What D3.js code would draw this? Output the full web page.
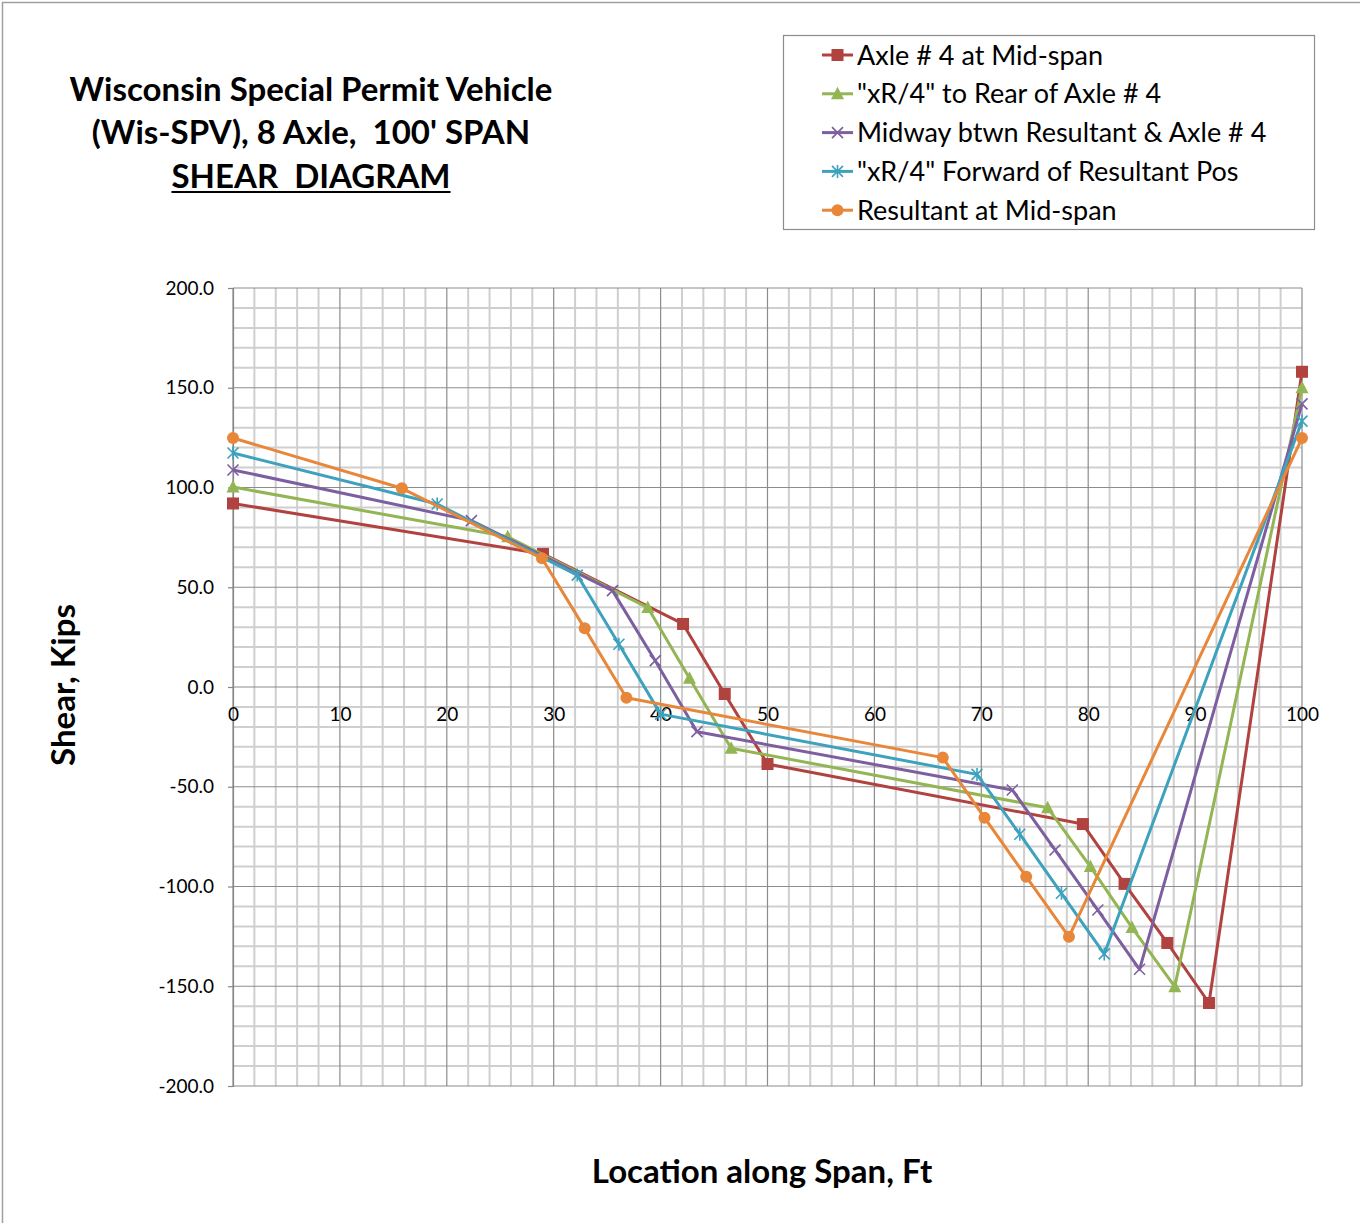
<!DOCTYPE html>
<html>
<head>
<meta charset="utf-8">
<script src="https://cdnjs.cloudflare.com/ajax/libs/d3/7.8.5/d3.min.js"></script>
<style>
  body { margin: 0; background: #fff; }
  text { font-family: Lato, 'Open Sans', sans-serif; fill: #000; }
</style>
</head>
<body>
<div id="chart"></div>
<script>
// Location along span (ft) and shear (kips) for each load position
let seriesNames = [
  'Axle # 4 at Mid-span',
  '"xR/4" to Rear of Axle # 4',
  'Midway btwn Resultant & Axle # 4',
  '"xR/4" Forward of Resultant Pos',
  'Resultant at Mid-span'
];

let axle4X = [0, 29.0, 42.1, 46.0, 50.0, 79.5, 83.4, 87.4, 91.3, 100];
let axle4Y = [92.0, 66.7, 31.6, -3.5, -38.6, -68.7, -98.7, -128.3, -158.4, 158.0];

let rearX = [0, 25.7, 38.8, 42.7, 46.6, 76.2, 80.2, 84.1, 88.1, 100];
let rearY = [100.2, 75.3, 39.8, 4.4, -30.7, -60.5, -90.0, -120.6, -150.2, 150.0];

let midwayX = [0, 22.3, 35.5, 39.5, 43.4, 72.9, 76.9, 80.9, 84.8, 100];
let midwayY = [108.8, 83.4, 48.3, 13.2, -22.4, -51.6, -81.7, -111.8, -141.5, 141.9];

let forwardX = [0, 19.1, 32.2, 36.1, 40.0, 69.6, 73.6, 77.5, 81.5, 100];
let forwardY = [117.3, 91.7, 56.1, 21.4, -13.6, -43.8, -73.8, -103.4, -133.8, 133.3];

let resultantX = [0, 15.8, 28.9, 32.9, 36.8, 66.4, 70.3, 74.2, 78.2, 100];
let resultantY = [124.8, 99.6, 64.5, 29.4, -5.4, -35.4, -65.5, -95.1, -125.2, 124.8];

let xTicks = d3.range(0, 101, 10);
let yTicks = d3.range(-200, 201, 50);

let colors = ['#B0423F', '#93B554', '#7D5FA0', '#3DA2BD', '#E8873A'];
let markers = ['square', 'triangle', 'x', 'star', 'circle'];

let series = [
  [axle4X, axle4Y], [rearX, rearY], [midwayX, midwayY],
  [forwardX, forwardY], [resultantX, resultantY]
].map(function(s, i) {
  return {
    name: seriesNames[i],
    color: colors[i],
    marker: markers[i],
    points: s[0].map(function(x, j) { return {x: x, y: s[1][j]}; })
  };
});

let width = 1360;
let height = 1223;
let plotLeft = 233, plotRight = 1302, plotTop = 288, plotBottom = 1086;

let svg = d3.select('#chart')
.append('svg')
.attr('width', width)
.attr('height', height);

// outer chart border (only top and left show in the frame)
svg.append('rect')
.attr('x', 2.5)
.attr('y', 2.5)
.attr('width', width + 10)
.attr('height', height + 10)
.attr('fill', 'none')
.attr('stroke', '#a0a0a0')
.attr('stroke-width', 1.5);

let x = d3.scaleLinear().domain([0, 100]).range([plotLeft, plotRight]);
let y = d3.scaleLinear().domain([-200, 200]).range([plotBottom, plotTop]);

// gridlines: minor first, major on top
let grid = svg.append('g');
let xMinor = d3.range(0, 101, 2).filter(function(d) { return d % 10 !== 0; });
let yMinor = d3.range(-200, 201, 10).filter(function(d) { return d % 50 !== 0; });

grid.selectAll('.vminor')
.data(xMinor)
.enter().append('line')
.attr('x1', function(d) { return x(d); })
.attr('x2', function(d) { return x(d); })
.attr('y1', plotTop)
.attr('y2', plotBottom)
.attr('stroke', '#cfcfcf')
.attr('stroke-width', 2);

grid.selectAll('.hminor')
.data(yMinor)
.enter().append('line')
.attr('x1', plotLeft)
.attr('x2', plotRight)
.attr('y1', function(d) { return y(d); })
.attr('y2', function(d) { return y(d); })
.attr('stroke', '#cfcfcf')
.attr('stroke-width', 2);

grid.selectAll('.vmajor')
.data(xTicks)
.enter().append('line')
.attr('x1', function(d) { return x(d); })
.attr('x2', function(d) { return x(d); })
.attr('y1', plotTop)
.attr('y2', plotBottom)
.attr('stroke', '#8c8c8c')
.attr('stroke-width', 1.2);

grid.selectAll('.hmajor')
.data(yTicks)
.enter().append('line')
.attr('x1', plotLeft)
.attr('x2', plotRight)
.attr('y1', function(d) { return y(d); })
.attr('y2', function(d) { return y(d); })
.attr('stroke', '#8c8c8c')
.attr('stroke-width', 1.2);

// y axis
let yAxis = svg.append('g')
.attr('transform', 'translate(' + plotLeft + ',0)')
.call(d3.axisLeft(y)
  .tickValues(yTicks)
  .tickSize(5)
  .tickPadding(14)
  .tickFormat(function(d) { return d.toFixed(1); }));
yAxis.selectAll('path, line').attr('stroke', '#868686').attr('stroke-width', 1.2);
yAxis.selectAll('text')
.style('font-family', 'Lato, sans-serif')
.style('font-size', '19px')
.attr('fill', '#000');

// x axis crosses at zero shear
let xAxis = svg.append('g')
.attr('transform', 'translate(0,' + y(0) + ')')
.call(d3.axisBottom(x)
  .tickValues(xTicks)
  .tickSize(0)
  .tickPadding(21));
xAxis.select('.domain').remove();
xAxis.selectAll('text')
.style('font-family', 'Lato, sans-serif')
.style('font-size', '19px')
.attr('fill', '#000');

// marker shapes
function drawMarker(g, type, color) {
  if (type === 'square') {
    g.append('rect')
    .attr('x', -6).attr('y', -6)
    .attr('width', 12).attr('height', 12)
    .attr('fill', color);
  } else if (type === 'triangle') {
    g.append('path')
    .attr('d', 'M0,-7L6.5,5.5L-6.5,5.5Z')
    .attr('fill', color);
  } else if (type === 'circle') {
    g.append('circle')
    .attr('r', 6)
    .attr('fill', color);
  } else if (type === 'x') {
    g.append('path')
    .attr('d', 'M-5.5,-5.5L5.5,5.5M-5.5,5.5L5.5,-5.5')
    .attr('stroke', color)
    .attr('stroke-width', 1.6)
    .attr('fill', 'none');
  } else if (type === 'star') {
    g.append('path')
    .attr('d', 'M-5.5,-5.5L5.5,5.5M-5.5,5.5L5.5,-5.5M0,-6.5L0,6.5')
    .attr('stroke', color)
    .attr('stroke-width', 1.6)
    .attr('fill', 'none');
  }
}

let line = d3.line()
.x(function(d) { return x(d.x); })
.y(function(d) { return y(d.y); });

series.forEach(function(s) {
  let g = svg.append('g');
  g.append('path')
  .datum(s.points)
  .attr('d', line)
  .attr('fill', 'none')
  .attr('stroke', s.color)
  .attr('stroke-width', 3)
  .attr('stroke-linejoin', 'round');
  g.selectAll('.pt')
  .data(s.points)
  .enter().append('g')
  .attr('transform', function(d) { return 'translate(' + x(d.x) + ',' + y(d.y) + ')'; })
  .each(function() { drawMarker(d3.select(this), s.marker, s.color); });
});

// title
let titleLines = ['Wisconsin Special Permit Vehicle', '(Wis-SPV), 8 Axle,  100\' SPAN', 'SHEAR  DIAGRAM'];
let titleBaselines = [101, 144, 188];
titleLines.forEach(function(t, i) {
  let txt = svg.append('text')
  .attr('x', 311)
  .attr('y', titleBaselines[i])
  .attr('text-anchor', 'middle')
  .style('font-size', '33px')
  .style('font-weight', 'bold')
  .style('white-space', 'pre')
  .text(t);
  if (i === 2) {
    let w = txt.node().getComputedTextLength();
    svg.append('line')
    .attr('x1', 311 - w / 2)
    .attr('x2', 311 + w / 2)
    .attr('y1', titleBaselines[i] + 4)
    .attr('y2', titleBaselines[i] + 4)
    .attr('stroke', '#000')
    .attr('stroke-width', 2);
  }
});

// axis titles
svg.append('text')
.attr('transform', 'translate(75,685) rotate(-90)')
.attr('text-anchor', 'middle')
.style('font-size', '33px')
.style('font-weight', 'bold')
.text('Shear, Kips');

svg.append('text')
.attr('x', 762)
.attr('y', 1183)
.attr('text-anchor', 'middle')
.style('font-size', '33px')
.style('font-weight', 'bold')
.text('Location along Span, Ft');

// legend
let legend = svg.append('g');
legend.append('rect')
.attr('x', 783.5)
.attr('y', 35.5)
.attr('width', 531)
.attr('height', 194)
.attr('fill', '#fff')
.attr('stroke', '#8c8c8c')
.attr('stroke-width', 1.2);

series.forEach(function(s, i) {
  let cy = 55 + i * 38.8;
  let item = legend.append('g');
  item.append('line')
  .attr('x1', 822)
  .attr('x2', 853)
  .attr('y1', cy)
  .attr('y2', cy)
  .attr('stroke', s.color)
  .attr('stroke-width', 3);
  drawMarker(item.append('g').attr('transform', 'translate(837.5,' + cy + ')'), s.marker, s.color);
  item.append('text')
  .attr('x', 857)
  .attr('y', cy + 9.5)
  .style('font-size', '27px')
  .text(s.name);
});
</script>
</body>
</html>
